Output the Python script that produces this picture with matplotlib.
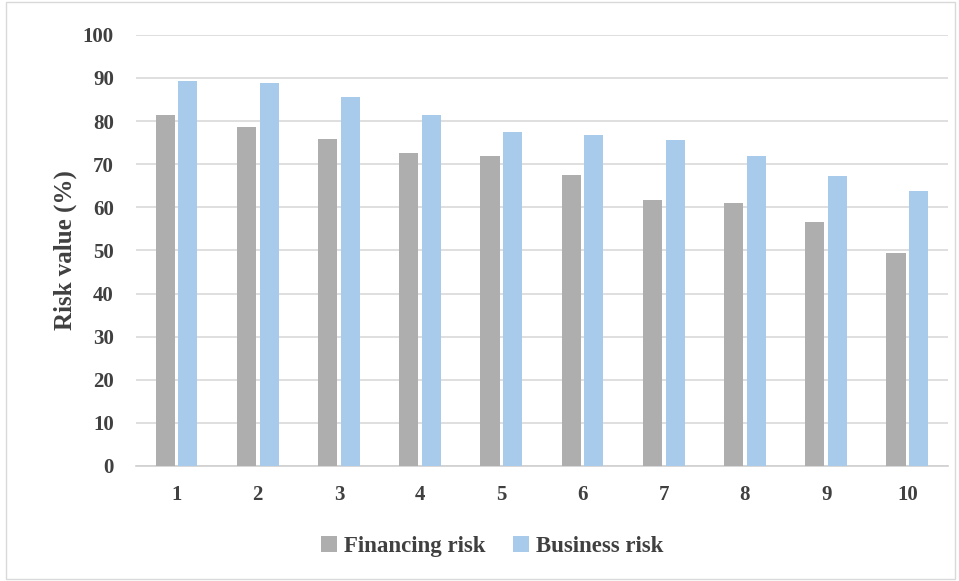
import matplotlib
matplotlib.use("Agg")
import matplotlib.pyplot as plt
import numpy as np
from matplotlib.patches import Rectangle

categories = ["1", "2", "3", "4", "5", "6", "7", "8", "9", "10"]
financing_risk = [81.5, 78.7, 75.9, 72.7, 71.8, 67.5, 61.8, 60.9, 56.6, 49.5]
business_risk = [89.4, 88.8, 85.7, 81.5, 77.5, 76.8, 75.6, 71.8, 67.2, 63.7]
y_ticks = [0, 10, 20, 30, 40, 50, 60, 70, 80, 90, 100]

plt.rcParams['font.family'] = ['Liberation Serif', 'DejaVu Serif']

fig = plt.figure(figsize=(9.59, 5.81), dpi=100)
fig.patches.append(Rectangle((0.006, 0.004), 0.99, 0.992, transform=fig.transFigure,
                             fill=False, edgecolor='#d9d9d9', linewidth=1.0))
ax = fig.add_axes([0.1418, 0.198, 0.8467, 0.742])

x = np.arange(1, len(categories) + 1)
w = 0.235
ax.bar(x - 0.14, financing_risk, width=w, color='#aeaeae', label='Financing risk', zorder=3)
ax.bar(x + 0.14, business_risk, width=w, color='#a8caeb', label='Business risk', zorder=3)

ax.set_xlim(0.5, 10.5)
ax.set_ylim(0, 100)
ax.set_yticks(y_ticks)
ax.set_xticks(x)
ax.set_xticklabels(categories)
ax.grid(axis='y', color='#d9d9d9', linewidth=1.2, zorder=0)
for s in ['left', 'right', 'top']:
    ax.spines[s].set_visible(False)
ax.spines['bottom'].set_color('#d0d0d0')
ax.spines['bottom'].set_linewidth(1.2)
ax.tick_params(axis='both', length=0, labelsize=15, colors='#404040')
ax.tick_params(axis='x', pad=14)
ax.tick_params(axis='y', pad=16)
for lbl in ax.get_xticklabels() + ax.get_yticklabels():
    lbl.set_fontweight('bold')

ax.set_ylabel('Risk value (%)', fontsize=18, fontweight='bold', color='#404040', labelpad=4)

leg = fig.legend(loc='center', bbox_to_anchor=(0.513, 0.06), ncol=2, frameon=False,
                 handlelength=0.7, handleheight=0.7, handletextpad=0.3,
                 columnspacing=1.2, prop={'weight': 'bold', 'size': 16.5})
for t in leg.get_texts():
    t.set_color('#404040')

fig.savefig('out.png', dpi=100)
